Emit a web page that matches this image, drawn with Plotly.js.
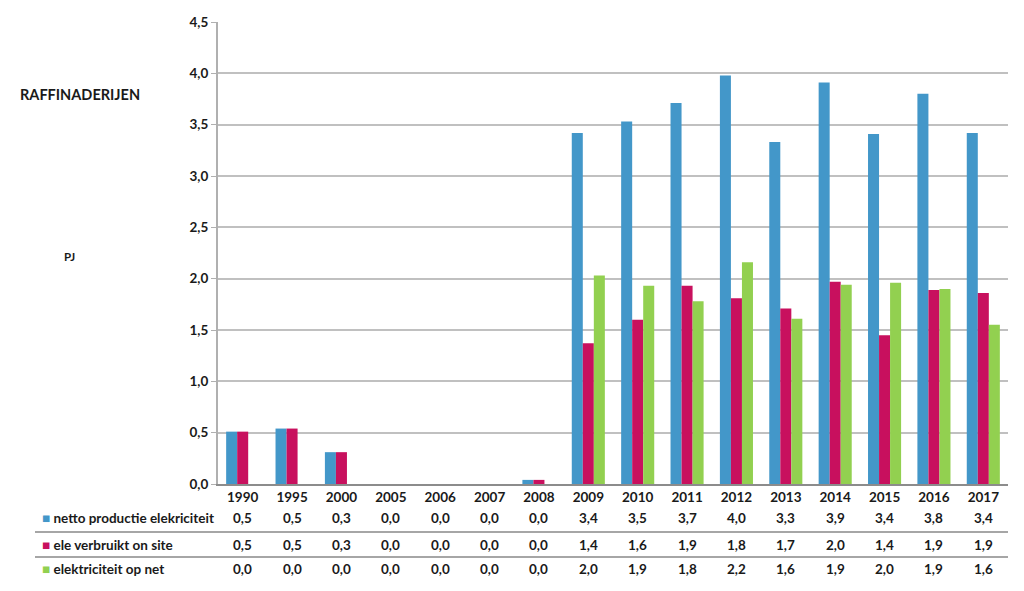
<!DOCTYPE html>
<html>
<head>
<meta charset="utf-8">
<script src="https://cdn.plot.ly/plotly-3.0.1.min.js"></script>
<style>
  html, body { margin: 0; padding: 0; background: #fff; }
  #chart { width: 1024px; height: 591px; }
</style>
</head>
<body>
<div id="chart"></div>
<script>
// jaren en reeksen (PJ)
const jaren = ['1990', '1995', '2000', '2005', '2006', '2007', '2008', '2009',
  '2010', '2011', '2012', '2013', '2014', '2015', '2016', '2017'];
const nettoProductie = [0.51, 0.54, 0.31, 0, 0, 0, 0.04, 3.42, 3.53, 3.71, 3.98, 3.33, 3.91, 3.41, 3.80, 3.42];
const verbruiktOnSite = [0.51, 0.54, 0.31, 0, 0, 0, 0.04, 1.37, 1.60, 1.93, 1.81, 1.71, 1.97, 1.45, 1.89, 1.86];
const opNet = [0, 0, 0, 0, 0, 0, 0, 2.03, 1.93, 1.78, 2.16, 1.61, 1.94, 1.96, 1.90, 1.55];
const reeksNamen = ['netto productie elekriciteit', 'ele verbruikt on site', 'elektriciteit op net'];
const kleuren = ['#4397C9', '#C8105E', '#92D050'];

// plotgebied in pixels (voor de tabel onder de grafiek)
const L = 218, R = 1008, T = 22, B = 484;
const px = x => (x - L) / (R - L);
const py = y => (B - y) / (B - T);

const reeksen = [nettoProductie, verbruiktOnSite, opNet];
const idx = jaren.map((_, j) => j);

const traces = reeksen.map((vals, i) => ({
  type: 'bar',
  x: idx,
  y: vals,
  name: reeksNamen[i],
  marker: { color: kleuren[i] },
  hoverinfo: 'y'
}));

const fnt = { family: 'Lato, "Open Sans", sans-serif', size: 13, color: '#1a1a1a', weight: 'bold' };

const annotations = [];
const rijY = [518, 545, 569];

// tabel: rijlabels en waarden
reeksen.forEach((vals, i) => {
  annotations.push({
    xref: 'paper', yref: 'paper', x: px(40), y: py(rijY[i]),
    xanchor: 'left', yanchor: 'middle', showarrow: false,
    text: '<span style="color:' + kleuren[i] + '">■</span> ' + reeksNamen[i],
    font: Object.assign({}, fnt, { size: 13.5 })
  });
  vals.forEach((v, j) => {
    annotations.push({
      xref: 'x', yref: 'paper', x: idx[j], y: py(rijY[i]),
      xanchor: 'center', yanchor: 'middle', showarrow: false,
      text: v.toFixed(1).replace('.', ','),
      font: Object.assign({}, fnt, { size: 13.5 })
    });
  });
});

annotations.push({
  xref: 'paper', yref: 'paper', x: px(18), y: py(94),
  xanchor: 'left', yanchor: 'middle', showarrow: false,
  text: 'RAFFINADERIJEN', font: Object.assign({}, fnt, { size: 14.5 })
});
annotations.push({
  xref: 'paper', yref: 'paper', x: px(62), y: py(256),
  xanchor: 'left', yanchor: 'middle', showarrow: false,
  text: 'PJ', font: Object.assign({}, fnt, { size: 11.5 })
});

const shapes = [532, 557].map(y => ({
  type: 'line', xref: 'paper', yref: 'paper',
  x0: px(35), x1: 1, y0: py(y), y1: py(y),
  line: { color: '#a6a6a6', width: 2 }
}));

const layout = {
  width: 1024, height: 591,
  margin: { l: L, r: 1024 - R, t: T, b: 591 - B },
  paper_bgcolor: '#fff', plot_bgcolor: '#fff',
  separators: ',.',
  barmode: 'group',
  bargap: 0.33,
  bargroupgap: 0,
  showlegend: false,
  xaxis: {
    range: [-0.5, jaren.length - 0.5],
    tickvals: idx, ticktext: jaren,
    showline: true, linecolor: '#8c8c8c', linewidth: 2,
    ticks: '', tickfont: Object.assign({}, fnt, { size: 13.5 }), showgrid: false,
    zeroline: false
  },
  yaxis: {
    range: [0, 4.5], dtick: 0.5, tickformat: '.1f',
    showgrid: true, gridcolor: '#c0c0c0', gridwidth: 2,
    showline: true, linecolor: '#b0b0b0', linewidth: 2,
    ticks: 'outside', ticklen: 5, tickcolor: '#b0b0b0',
    tickfont: Object.assign({}, fnt, { size: 13.5 }), zeroline: false
  },
  annotations: annotations,
  shapes: shapes
};

Plotly.newPlot('chart', traces, layout, { displayModeBar: false, staticPlot: true });
</script>
</body>
</html>
